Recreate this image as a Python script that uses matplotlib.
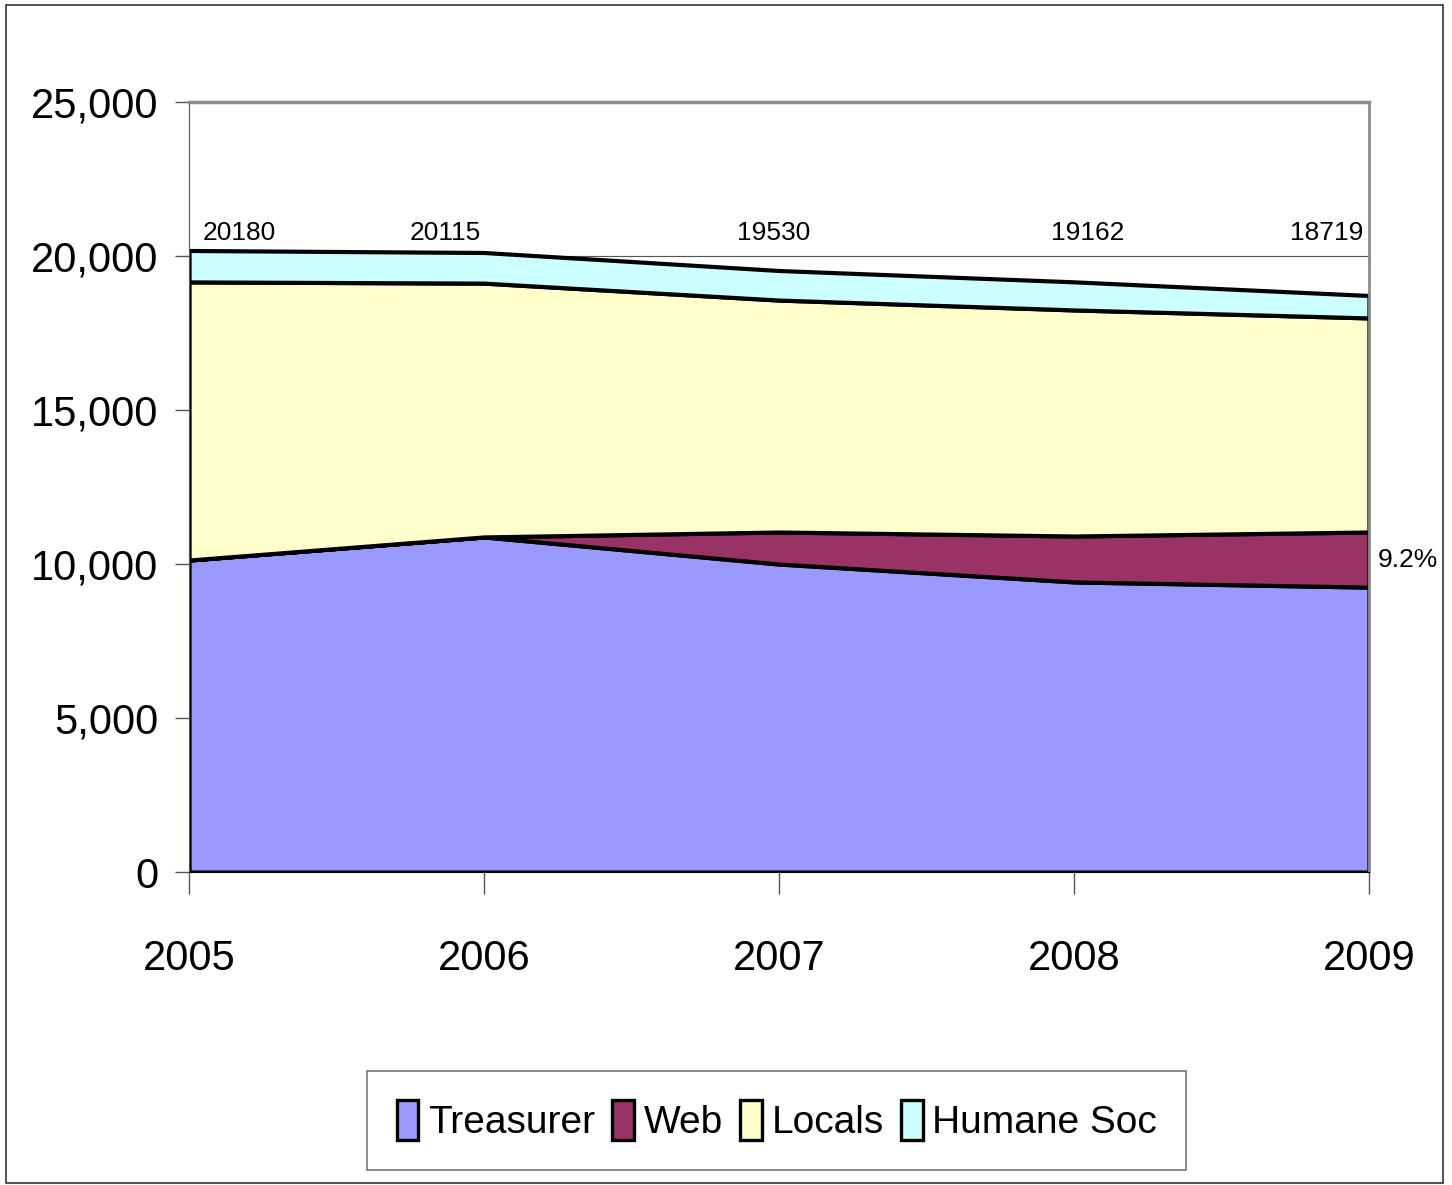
import matplotlib
matplotlib.use("Agg")
import matplotlib.pyplot as plt
from matplotlib.patches import Rectangle

plt.rcParams['font.family'] = ['Liberation Sans', 'DejaVu Sans']

years = [2005, 2006, 2007, 2008, 2009]
treasurer = [10130, 10880, 10000, 9420, 9250]
web = [0, 0, 1040, 1490, 1790]
locals_ = [9030, 8240, 7530, 7340, 6950]
humane = [1020, 995, 960, 912, 729]
totals = [20180, 20115, 19530, 19162, 18719]
web_share = "9.2%"

series_names = ["Treasurer", "Web", "Locals", "Humane Soc"]
colors = ["#9999FF", "#993366", "#FFFFCC", "#CCFFFF"]

fig = plt.figure(figsize=(14.52, 11.85), dpi=100)
fig.patches.append(Rectangle((0.004, 0.002), 0.99, 0.994, transform=fig.transFigure,
                             fill=False, edgecolor="#333333", linewidth=1.2))

ax = fig.add_axes([0.1302, 0.2641, 0.8126, 0.6498])

polys = ax.stackplot(years, treasurer, web, locals_, humane, colors=colors,
                     edgecolor="black", linewidth=3.0, labels=series_names, zorder=2)

ax.set_xlim(2005, 2009)
ax.set_ylim(0, 25000)
ax.set_xticks(years)
ax.set_yticks(range(0, 25001, 5000))
ax.set_yticklabels([f"{v:,}" for v in range(0, 25001, 5000)])
ax.tick_params(axis='y', labelsize=30, length=10, width=1, pad=12, color="#555555")
ax.tick_params(axis='x', labelsize=30, length=16, width=1, pad=32, color="#555555")
ax.yaxis.grid(True, color="#555555", linewidth=0.8, zorder=0)
ax.set_axisbelow(True)

ax.spines['top'].set_color("#8c8c8c")
ax.spines['top'].set_linewidth(2.5)
ax.spines['right'].set_color("#8c8c8c")
ax.spines['right'].set_linewidth(2.0)
ax.spines['left'].set_color("#555555")
ax.spines['bottom'].set_color("black")

label_font = dict(fontsize=19)

# total labels along the top
offsets = [(10, 'left'), (-28, 'center'), (-4, 'center'), (10, 'center'), (-4, 'right')]
for x, t, (dx, ha) in zip(years, totals, offsets):
    ax.annotate(str(t), xy=(x, 20350), xytext=(dx, 0), textcoords='offset points',
                ha=ha, va='bottom', **label_font)

ax.annotate(web_share, xy=(2009, treasurer[-1] + web[-1] / 2), xytext=(6, 0),
            textcoords='offset points', ha='left', va='center',
            annotation_clip=False, **label_font)

leg = fig.legend(loc='center', bbox_to_anchor=(0.535, 0.0545), ncol=4, fontsize=28,
                 frameon=True, fancybox=False, edgecolor="#555555", handlelength=0.55,
                 handleheight=1.2, handletextpad=0.25, columnspacing=0.45,
                 borderpad=0.75)
leg.get_frame().set_linewidth(1.2)
for p in leg.get_patches():
    p.set_linewidth(2.4)

fig.savefig("out.png", dpi=100)
